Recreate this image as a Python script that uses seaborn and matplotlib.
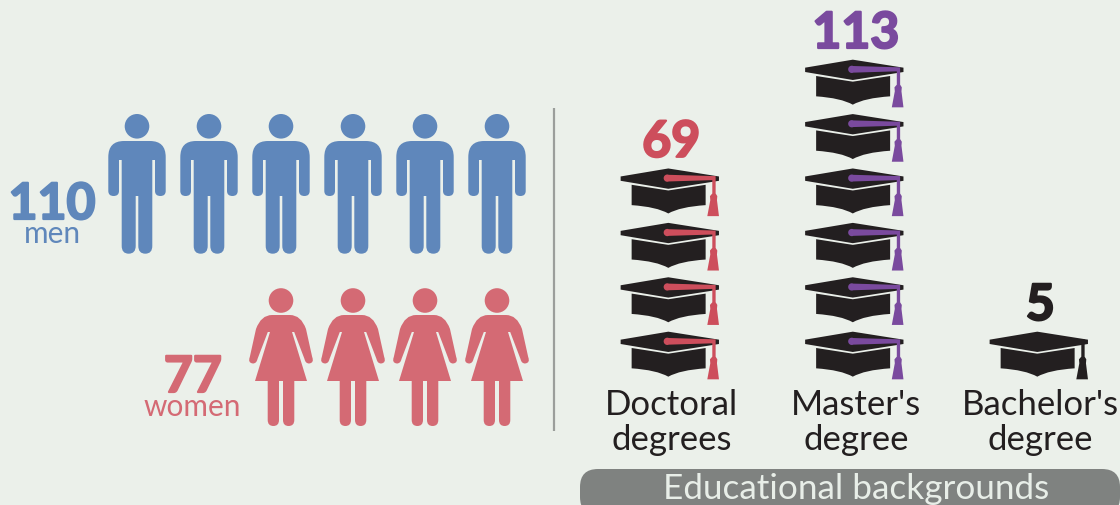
import numpy as np
import pandas as pd
import matplotlib
matplotlib.use('Agg')
import matplotlib.pyplot as plt
import matplotlib.patheffects as pe
import seaborn as sns
from matplotlib.path import Path
from matplotlib.patches import FancyBboxPatch

# --- Data ---
gender_labels = ['men', 'women']
gender_values = [110, 77]
degree_labels = ['Doctoral\ndegrees', "Master's\ndegree", "Bachelor's\ndegree"]
degree_values = [69, 113, 5]
panel_title = 'Educational backgrounds'
people_per_icon = 20

# --- Colours ---
bg = '#ebf0ea'
gender_colors = ['#5f87bb', '#d46a74']
degree_colors = ['#cd4e5c', '#7a4a9e', '#231f20']
ink = '#231f20'

PX = 0.72  # points per pixel at dpi 100


def half_outline(pts):
    # pts: (x, y) in pixels, y down; 'q' marks a control point. Mirrored around x=0
    verts, codes = [], []
    for i, p in enumerate(pts):
        verts.append((p[0], p[1]))
        if i == 0:
            codes.append(Path.MOVETO)
        elif len(p) == 3 or (i > 0 and len(pts[i - 1]) == 3):
            codes.append(Path.CURVE3)
        else:
            codes.append(Path.LINETO)
    mirror = [(-x, y) for x, y in reversed(verts)][1:]
    return verts + mirror, codes + codes[:0:-1]


def make_path(verts, codes, circles=()):
    verts = np.array(verts, dtype=float)
    verts[:, 1] *= -1
    parts = [Path(verts, codes)]
    for cx, cy, r in circles:
        parts.append(Path.circle((cx, -cy), r))
    return Path.make_compound_path(*parts)


man_pts = [
    (0, -43), (-13, -43), (-28.7, -43, 'q'), (-28.7, -27), (-28.7, 7),
    (-28.7, 12, 'q'), (-23.4, 12), (-18, 12, 'q'), (-18, 7), (-18, -24), (-15.3, -24),
    (-15.3, 62), (-15.3, 69.7, 'q'), (-8.3, 69.7), (-1.3, 69.7, 'q'), (-1.3, 62),
    (-1.3, 12), (0, 12),
]
woman_pts = [
    (0, -42), (-9, -42), (-20, -42, 'q'), (-25, -28), (-31.2, 0),
    (-33.5, 6, 'q'), (-28, 6.5), (-24.5, 6.5, 'q'), (-23.5, 2), (-13.2, -25), (-11, -25),
    (-26, 24), (-13.3, 24), (-13.3, 63), (-13.3, 69, 'q'), (-7.6, 69), (-2, 69, 'q'), (-2, 63),
    (-2, 24), (0, 24),
]


def cap_xy(zx, zy):
    # cap drawing measured on a 3x grid
    return ((zx - 209.5) / 3, (zy - 245) / 3)


board = [cap_xy(*p) for p in [(62, 199), (205, 175), (357, 199), (357, 212), (205, 236), (62, 212), (62, 199)]]
base = [cap_xy(*p) for p in [(95, 224), (205, 241), (317, 224), (317, 285), (240, 290), (205, 310), (170, 290), (95, 285), (95, 224)]]
board_codes = [Path.MOVETO] + [Path.LINETO] * 5 + [Path.CLOSEPOLY]
base_codes = [Path.MOVETO, Path.LINETO, Path.LINETO, Path.LINETO, Path.CURVE3, Path.CURVE3, Path.CURVE3, Path.CURVE3, Path.CLOSEPOLY]
cap_verts = np.array(board + base, dtype=float)
cap_verts[:, 1] *= -1
cap_path = Path(cap_verts, board_codes + base_codes)

angles = np.radians(np.linspace(295, 65, 14))
dot = [(202 + 11 * np.cos(a), 204 + 11 * np.sin(a)) for a in angles]
tassel_outline = dot + [(337, 210), (337, 250), (330, 258), (331, 270), (322, 318), (357, 318),
                        (351, 270), (352, 258), (347, 250), (347, 198)]
tassel_verts = np.array([cap_xy(*p) for p in tassel_outline] + [cap_xy(*tassel_outline[0])], dtype=float)
tassel_verts[:, 1] *= -1
tassel_path = Path(tassel_verts, [Path.MOVETO] + [Path.LINETO] * (len(tassel_verts) - 2) + [Path.CLOSEPOLY])

man_path = make_path(*half_outline(man_pts), circles=[(0, -57.7, 12.3)])
woman_path = make_path(*half_outline(woman_pts), circles=[(0, -56.5, 12.3)])


def marker_size(path):
    # matplotlib scales a custom marker to its largest coordinate
    return (2 * np.abs(path.vertices).max() * PX) ** 2


def icon_count(value):
    return int(np.ceil(value / people_per_icon))


def draw_icons(ax, xs, ys, path, color):
    df = pd.DataFrame({'x': xs, 'y': ys})
    sns.scatterplot(data=df, x='x', y='y', marker=path, s=marker_size(path), color=color,
                    linewidth=0, edgecolor='none', legend=False, ax=ax, clip_on=True)


# --- Figure ---
sns.set_theme(style='white')
plt.rcParams['font.family'] = ['Lato', 'DejaVu Sans']
fig = plt.figure(figsize=(11.2, 5.05), dpi=100, facecolor=bg)
ax = fig.add_axes([0, 0, 1, 1])
ax.set_facecolor(bg)

# people rows, right aligned on the last column
rows_y = [184, 357]
for value, y, path, color in zip(gender_values, rows_y, [man_path, woman_path], gender_colors):
    n = icon_count(value)
    xs = 497 - 72 * np.arange(n)[::-1]
    draw_icons(ax, xs, [y] * n, path, color)

# cap stacks
stack_x = [669.8, 854.3, 1038.8]
for value, x, color in zip(degree_values, stack_x, degree_colors):
    n = icon_count(value)
    ys = 355 - 54.4 * np.arange(n)
    draw_icons(ax, [x] * n, ys, cap_path, ink)
    draw_icons(ax, [x] * n, ys, tassel_path, color)

ax.set_xlim(0, 1120)
ax.set_ylim(505, 0)
ax.axis('off')

# divider and title pill
ax.plot([554, 554], [108, 431], color='#9b9e9b', lw=2 * PX * 1.1, solid_capstyle='butt')
ax.add_patch(FancyBboxPatch((598, 487), 504, 10, boxstyle='round,pad=18,rounding_size=18',
                            facecolor='#7f8280', edgecolor='none', clip_on=True))
ax.text(856, 499, panel_title, ha='center', va='baseline', fontsize=25.3, color='#e8eee8')


def number(x, y, value, color):
    # heavier than the font's bold, so thicken it with a stroke
    ax.text(x, y, str(value), ha='center', va='baseline', fontweight='bold', fontsize=36,
            color=color, path_effects=[pe.withStroke(linewidth=1.6, foreground=color)])


# gender numbers
word_kw = dict(ha='center', va='baseline', fontsize=21.5)
number(52, 219, gender_values[0], gender_colors[0])
ax.text(52, 243, gender_labels[0], color=gender_colors[0], **word_kw)
number(193, 392, gender_values[1], gender_colors[1])
ax.text(192.5, 416, gender_labels[1], color=gender_colors[1], **word_kw)

# degree numbers and labels
for value, label, x, color in zip(degree_values, degree_labels, stack_x, degree_colors):
    n = icon_count(value)
    number(x + 1.5, 355 - 54.4 * (n - 1) - 35, value, color)
    for line, y in zip(label.split('\n'), [415, 450]):
        ax.text(x + 1.5, y, line, ha='center', va='baseline', fontsize=25, color=ink)

fig.savefig('out.png', dpi=100, facecolor=bg)
